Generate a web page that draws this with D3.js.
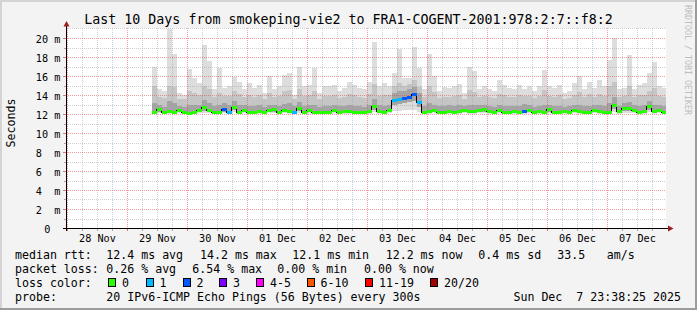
<!DOCTYPE html>
<html>
<head>
<meta charset="utf-8">
<script src="https://cdn.jsdelivr.net/npm/d3@7"></script>
<style>
  body { margin: 0; background: #f3f3f3; }
  svg text { font-family: "DejaVu Sans Mono", monospace; fill: #000; white-space: pre; }
</style>
</head>
<body>
<div id="chart"></div>
<script>
// ---- data (2 hour bins) ----
const binStart = "2025-11-29T10:00:00";
const binHours = 2;

const median = [
  12.2,12.5,12.2,12.3,12.2,12.4,12.2,12.1,12.2,12.4,
  12.7,12.4,12.2,12.2,12.5,12.2,12.7,12.2,12.4,12.2,
  12.2,12.3,12.2,12.4,12.5,12.2,12.4,12.3,12.2,12.6,
  12.2,12.4,12.2,12.2,12.2,12.2,12.4,12.2,12.3,12.3,
  12.2,12.2,12.2,12.3,12.8,12.3,12.2,12.4,13.5,13.6,
  13.7,13.8,14.1,13.3,12.2,12.3,12.4,12.2,12.2,12.3,
  12.2,12.3,12.4,12.3,12.3,12.4,12.5,12.3,12.2,12.4,
  12.2,12.2,12.3,12.2,12.3,12.4,12.2,12.3,12.2,12.5,
  12.2,12.2,12.3,12.2,12.4,12.3,12.2,12.2,12.4,12.3,
  12.2,12.2,13.0,12.3,12.6,12.6,12.4,12.2,12.3,12.8,
  12.3,12.4,12.2
];
// lost pings out of 20
const loss = [
  0,0,0,0,0,0,0,0,0,0,
  0,0,0,0,2,1,0,0,0,0,
  0,0,0,0,0,0,0,0,1,0,
  0,0,0,0,0,0,0,0,0,0,
  0,0,0,0,0,0,0,0,1,1,
  2,2,2,1,0,0,0,0,0,0,
  0,0,0,0,0,0,0,0,0,0,
  0,0,0,0,2,0,0,0,0,0,
  0,0,0,0,0,0,0,0,0,0,
  0,0,0,0,0,0,0,0,0,0,
  0,0,0
];
// smoke: slowest ping
const pmax = [
  17.0,14.6,14.4,20.9,18.3,14.2,14.0,16.7,15.8,15.3,
  19.3,17.6,14.6,16.8,14.7,14.9,15.9,15.4,14.6,15.3,
  14.7,15.1,14.2,16.0,14.6,14.9,16.1,16.3,14.0,17.0,
  14.9,15.1,16.8,14.2,14.9,14.9,15.1,14.4,14.7,15.4,
  15.1,14.7,14.6,15.4,19.6,14.9,15.3,14.9,16.3,18.8,
  15.8,15.8,19.1,16.8,14.6,18.3,16.0,14.4,14.8,14.7,
  14.9,15.2,14.2,17.0,16.5,14.6,14.9,14.6,14.4,15.6,
  15.1,14.7,14.6,15.1,14.6,14.9,14.4,14.9,16.6,14.9,
  14.7,15.1,14.2,14.4,15.3,16.0,14.6,15.4,14.7,15.6,
  14.9,17.7,20.0,14.6,14.7,18.2,14.6,15.1,15.3,16.3,
  17.5,14.9,14.7
];
const p90 = [
  15.0,13.8,13.7,15.0,14.8,13.6,13.6,14.4,14.2,14.0,
  14.9,14.6,13.8,14.2,13.9,13.9,14.4,14.1,13.8,14.0,
  13.8,14.0,13.6,14.2,13.8,13.9,14.4,14.5,13.6,14.6,
  13.9,14.0,14.4,13.6,13.9,13.9,14.0,13.7,13.8,14.1,
  14.0,13.8,13.7,14.1,15.2,13.9,14.0,14.0,15.0,15.3,
  15.0,15.2,15.6,14.8,13.8,14.9,14.3,13.7,13.8,13.8,
  13.9,14.0,13.6,14.5,14.3,13.8,13.9,13.8,13.7,14.1,
  14.0,13.8,13.8,14.0,13.9,13.9,13.7,13.9,14.5,13.9,
  13.8,14.0,13.6,13.7,14.0,14.3,13.8,14.1,13.8,14.1,
  13.9,14.9,15.4,13.8,13.9,15.0,13.8,14.0,14.0,14.4,
  14.7,13.9,13.8
];
const p75 = [
  13.2,12.9,12.7,13.4,13.2,12.8,12.7,13.0,12.9,12.9,
  13.5,13.2,12.8,13.0,13.2,13.0,13.4,12.9,12.9,12.8,
  12.8,12.9,12.7,13.0,13.0,12.8,13.1,13.2,12.8,13.3,
  12.8,13.0,13.0,12.7,12.8,12.8,13.0,12.8,12.8,12.9,
  12.8,12.8,12.7,12.9,13.6,12.9,12.8,13.0,14.2,14.4,
  14.4,14.6,14.8,14.2,12.8,13.2,13.0,12.8,12.8,12.9,
  12.8,12.9,12.8,13.0,13.0,12.9,13.0,12.8,12.7,13.0,
  12.8,12.8,12.8,12.8,13.1,12.9,12.7,12.8,12.9,13.0,
  12.8,12.8,12.7,12.8,13.0,13.0,12.8,12.8,13.0,12.9,
  12.8,13.2,13.8,12.8,13.2,13.3,13.0,12.8,12.9,13.4,
  13.0,13.0,12.8
];
// smoke: lower edges (inner band, fastest ping)
const plow = [
  12.1,12.2,12.1,12.1,12.1,12.2,12.1,12.0,12.1,12.2,
  12.3,12.2,12.1,12.1,12.2,12.1,12.4,12.1,12.2,12.1,
  12.1,12.1,12.1,12.2,12.2,12.1,12.2,12.1,12.1,12.3,
  12.1,12.2,12.1,12.1,12.1,12.1,12.2,12.1,12.1,12.1,
  12.1,12.1,12.1,12.1,12.4,12.1,12.1,12.2,13.0,13.1,
  13.2,13.3,13.4,12.7,12.1,12.1,12.2,12.1,12.1,12.1,
  12.1,12.1,12.2,12.1,12.1,12.2,12.2,12.1,12.1,12.2,
  12.1,12.1,12.1,12.1,12.1,12.2,12.1,12.1,12.1,12.2,
  12.1,12.1,12.1,12.1,12.2,12.1,12.1,12.1,12.2,12.1,
  12.1,12.1,12.5,12.1,12.3,12.3,12.2,12.1,12.1,12.4,
  12.1,12.2,12.1
];
const pmin = [
  12.0,12.1,12.0,12.0,12.0,12.1,12.0,11.9,12.0,12.1,
  12.1,12.1,12.0,12.0,12.1,12.0,12.2,12.0,12.1,12.0,
  12.0,12.0,12.0,12.1,12.1,12.0,12.1,12.0,12.0,12.1,
  12.0,12.1,12.0,12.0,12.0,12.0,12.1,12.0,12.0,12.0,
  12.0,12.0,12.0,12.0,12.2,12.0,12.0,12.1,12.3,12.3,
  12.4,12.4,12.4,12.2,12.0,12.0,12.1,12.0,12.0,12.0,
  12.0,12.0,12.1,12.0,12.0,12.1,12.1,12.0,12.0,12.1,
  12.0,12.0,12.0,12.0,12.0,12.1,12.0,12.0,12.0,12.1,
  12.0,12.0,12.0,12.0,12.1,12.0,12.0,12.0,12.1,12.0,
  12.0,12.0,12.2,12.0,12.1,12.1,12.1,12.0,12.0,12.2,
  12.0,12.1,12.0
];

const dayTicks = ["2025-11-28","2025-11-29","2025-11-30","2025-12-01","2025-12-02",
                  "2025-12-03","2025-12-04","2025-12-05","2025-12-06","2025-12-07"];
const dayLabels = ["28 Nov","29 Nov","30 Nov","01 Dec","02 Dec","03 Dec","04 Dec","05 Dec","06 Dec","07 Dec"];
const yTicks = [0,2,4,6,8,10,12,14,16,18,20];
const yLabels = ["0","2  m","4  m","6  m","8  m","10 m","12 m","14 m","16 m","18 m","20 m"];

const lossNames = ["0","1","2","3","4-5","6-10","11-19","20/20"];
const lossColors = ["#26ff00","#00b8ff","#0059ff","#7e00ff","#ff00ff","#ff5500","#ff0000","#a10000"];
const lossLimits = [0,1,2,3,5,10,19,20];   // upper bound of each class

const rttStats = ["12.4 ms avg","14.2 ms max","12.1 ms min","12.2 ms now","0.4 ms sd","33.5","am/s"];
const lossStats = ["0.26 % avg","6.54 % max","0.00 % min","0.00 % now"];
const title = "Last 10 Days from smokeping-vie2 to FRA1-COGENT-2001:978:2:7::f8:2";
const probeText = "20 IPv6-ICMP Echo Pings (56 Bytes) every 300s";
const stamp = "Sun Dec  7 23:38:25 2025";

// ---- layout ----
const W = 697, H = 310;
const t0 = new Date("2025-11-27T23:38:25"), t1 = new Date("2025-12-07T23:38:25");
const yTop = 21.05;

const svg = d3.select("#chart").append("svg")
  .attr("width", W).attr("height", H);

const x = d3.scaleTime().domain([t0, t1]).range([66, 666]);
const y = d3.scaleLinear().domain([0, 20]).range([228, 38]);

// background + 3d frame
svg.append("rect").attr("width", W).attr("height", H).attr("fill", "#f3f3f3");
svg.append("rect").attr("x", 0).attr("y", 0).attr("width", W).attr("height", 2).attr("fill", "#d4d4d4");
svg.append("rect").attr("x", 0).attr("y", 0).attr("width", 2).attr("height", H).attr("fill", "#d4d4d4");
svg.append("rect").attr("x", 0).attr("y", H - 2).attr("width", W).attr("height", 2).attr("fill", "#9c9c9c");
svg.append("rect").attr("x", W - 2).attr("y", 0).attr("width", 2).attr("height", H).attr("fill", "#9c9c9c");

// canvas
const [x0, x1] = x.range();
svg.append("rect")
  .attr("x", x0).attr("y", y(yTop))
  .attr("width", x1 - x0).attr("height", y(0) - y(yTop))
  .attr("fill", "#ffffff");

svg.append("clipPath").attr("id", "plot")
  .append("rect")
  .attr("x", x0).attr("y", y(yTop))
  .attr("width", x1 - x0).attr("height", y(0) - y(yTop));

const times = median.map((_, i) => d3.timeHour.offset(new Date(binStart), i * binHours));
const binEnd = d => d3.timeHour.offset(d, binHours);

// smoke
const smoke = svg.append("g").attr("clip-path", "url(#plot)").attr("shape-rendering", "crispEdges");
const layers = [
  { lo: pmin, hi: pmax, color: "#dddddd" },
  { lo: plow, hi: p90,  color: "#c5c5c5" },
  { lo: plow, hi: p75,  color: "#a4a4a4" }
];
layers.forEach(l => {
  smoke.append("g").attr("fill", l.color)
    .selectAll("rect")
    .data(times)
    .join("rect")
      .attr("x", d => x(d))
      .attr("width", d => x(binEnd(d)) - x(d))
      .attr("y", (d, i) => y(l.hi[i]))
      .attr("height", (d, i) => y(l.lo[i]) - y(l.hi[i]));
});

// grid (drawn over the smoke, like rrdtool)
const grid = svg.append("g").attr("stroke-width", 1).attr("stroke-dasharray", "1,1");
const minorT = d3.timeHour.every(6).range(t0, t1).filter(d => d.getHours() !== 0);
const majorT = d3.timeDay.range(t0, t1);
grid.selectAll(".vmin").data(minorT).join("line")
  .attr("x1", d => Math.round(x(d)) + 0.5).attr("x2", d => Math.round(x(d)) + 0.5)
  .attr("y1", y(yTop)).attr("y2", y(0))
  .attr("stroke", "rgba(150,150,150,0.45)");
const hMinor = d3.range(1, 22).filter(v => v % 2 === 1);
const hMajor = d3.range(2, 21, 2);
grid.selectAll(".hmin").data(hMinor).join("line")
  .attr("x1", x0).attr("x2", x1)
  .attr("y1", d => Math.round(y(d)) + 0.5).attr("y2", d => Math.round(y(d)) + 0.5)
  .attr("stroke", "rgba(150,150,150,0.45)");
grid.selectAll(".vmaj").data(majorT).join("line")
  .attr("x1", d => Math.round(x(d)) + 0.5).attr("x2", d => Math.round(x(d)) + 0.5)
  .attr("y1", y(yTop)).attr("y2", y(0))
  .attr("stroke", "rgba(235,60,60,0.5)");
grid.selectAll(".hmaj").data(hMajor).join("line")
  .attr("x1", x0).attr("x2", x1)
  .attr("y1", d => Math.round(y(d)) + 0.5).attr("y2", d => Math.round(y(d)) + 0.5)
  .attr("stroke", "rgba(235,60,60,0.5)");

// median line and loss-coloured bars
const lossClass = n => lossLimits.findIndex(l => n <= l);
const plot = svg.append("g").attr("clip-path", "url(#plot)").attr("shape-rendering", "crispEdges");
const pts = times.map((t, i) => [t, median[i]]);
pts.push([binEnd(times[times.length - 1]), median[median.length - 1]]);
plot.append("path")
  .attr("d", d3.line().x(d => x(d[0])).y(d => Math.round(y(d[1])) + 0.5).curve(d3.curveStepAfter)(pts))
  .attr("fill", "none").attr("stroke", "#000").attr("stroke-width", 1);
plot.selectAll(".med").data(times).join("rect")
  .attr("x", d => x(d))
  .attr("width", d => x(binEnd(d)) - x(d))
  .attr("y", (d, i) => Math.round(y(median[i])) - 1)
  .attr("height", 2.5)
  .attr("fill", (d, i) => lossColors[lossClass(loss[i])]);

// axes
const axis = svg.append("g").attr("shape-rendering", "crispEdges");
axis.selectAll(".tmin").data(minorT).join("line")
  .attr("x1", d => Math.round(x(d)) + 0.5).attr("x2", d => Math.round(x(d)) + 0.5)
  .attr("y1", 228).attr("y2", 231).attr("stroke", "#aaaaaa");
axis.selectAll(".tmaj").data(majorT).join("line")
  .attr("x1", d => Math.round(x(d)) + 0.5).attr("x2", d => Math.round(x(d)) + 0.5)
  .attr("y1", 228).attr("y2", 231).attr("stroke", "#f07070");
axis.selectAll(".ymin").data(hMinor.filter(v => v < 21)).join("line")
  .attr("x1", 64).attr("x2", 66).attr("y1", d => Math.round(y(d)) + 0.5).attr("y2", d => Math.round(y(d)) + 0.5)
  .attr("stroke", "#aaaaaa");
axis.selectAll(".ymaj").data(hMajor).join("line")
  .attr("x1", 63).attr("x2", 66).attr("y1", d => Math.round(y(d)) + 0.5).attr("y2", d => Math.round(y(d)) + 0.5)
  .attr("stroke", "#f07070");
axis.append("line").attr("x1", 63).attr("x2", 669).attr("y1", 228.5).attr("y2", 228.5).attr("stroke", "#000");
axis.append("line").attr("x1", 66.5).attr("x2", 66.5).attr("y1", 231).attr("y2", 25).attr("stroke", "#000");
svg.append("path").attr("d", "M668,225.5 L673.5,228.5 L668,231.5 Z").attr("fill", "#9b1c1c");
svg.append("path").attr("d", "M63.5,26.5 L66.5,21 L69.5,26.5 Z").attr("fill", "#9b1c1c");

// tick labels through d3 axes
const noon = dayTicks.map(d => d3.timeHour.offset(new Date(d + "T00:00:00"), 12));
svg.append("g").attr("transform", "translate(0,228)")
  .call(d3.axisBottom(x).tickValues(noon).tickFormat((d, i) => dayLabels[i]).tickSize(0))
  .call(g => g.select(".domain").remove())
  .call(g => g.selectAll("text")
    .attr("y", 7).attr("dy", "0.71em")
    .attr("font-family", "DejaVu Sans Mono").attr("font-size", "10.2px"));

svg.append("g")
  .call(d3.axisLeft(y).tickValues(yTicks).tickFormat((d, i) => yLabels[i]).tickSize(0))
  .call(g => g.select(".domain").remove())
  .call(g => g.selectAll("text")
    .attr("text-anchor", "start")
    .attr("x", d => d === 0 ? 44.2 : 35.8)
    .attr("dy", "0.42em")
    .attr("font-family", "DejaVu Sans Mono").attr("font-size", "10.2px"));

// title, unit, watermark
svg.append("text").attr("x", 348.5).attr("y", 23.5).attr("text-anchor", "middle")
  .attr("font-size", "13.3px").text(title);
svg.append("text").attr("transform", "translate(14.5,123) rotate(-90)")
  .attr("text-anchor", "middle").attr("font-size", "11.6px").text("Seconds");
svg.append("text").attr("transform", "translate(684.5,5) rotate(90)")
  .attr("font-size", "8.3px").style("fill", "#bdbdbd").text("RRDTOOL / TOBI OETIKER");

// legend
const lg = svg.append("g").attr("font-size", "11.6px");
const rowY = [258.5, 272.5, 286.5, 300.5];
lg.append("text").attr("x", 15).attr("y", rowY[0]).text("median rtt:");
lg.append("text").attr("x", 15).attr("y", rowY[1]).text("packet loss:");
lg.append("text").attr("x", 15).attr("y", rowY[2]).text("loss color:");
lg.append("text").attr("x", 15).attr("y", rowY[3]).text("probe:");

const rttX = [106.3, 200, 292.3, 385.7, 478.3, 557.3, 606.7];
lg.selectAll(".rtt").data(rttStats).join("text")
  .attr("x", (d, i) => rttX[i]).attr("y", rowY[0]).text(d => d);

const lossX = [106.3, 192.3, 277.3, 364];
lg.selectAll(".pl").data(lossStats).join("text")
  .attr("x", (d, i) => lossX[i]).attr("y", rowY[1]).text(d => d);

const boxX = [108, 145.5, 182.5, 219, 256, 306.5, 365, 430];
lg.selectAll(".box").data(lossColors).join("rect")
  .attr("x", (d, i) => boxX[i] + 0.5).attr("y", 278.5)
  .attr("width", 7).attr("height", 8)
  .attr("fill", d => d).attr("stroke", "#000").attr("stroke-width", 1)
  .attr("shape-rendering", "crispEdges");
lg.selectAll(".lname").data(lossNames).join("text")
  .attr("x", (d, i) => boxX[i] + 14).attr("y", rowY[2]).text(d => d);

lg.append("text").attr("x", 106.3).attr("y", rowY[3]).text(probeText);
lg.append("text").attr("x", 681).attr("y", rowY[3]).attr("text-anchor", "end").text(stamp);
</script>
</body>
</html>
